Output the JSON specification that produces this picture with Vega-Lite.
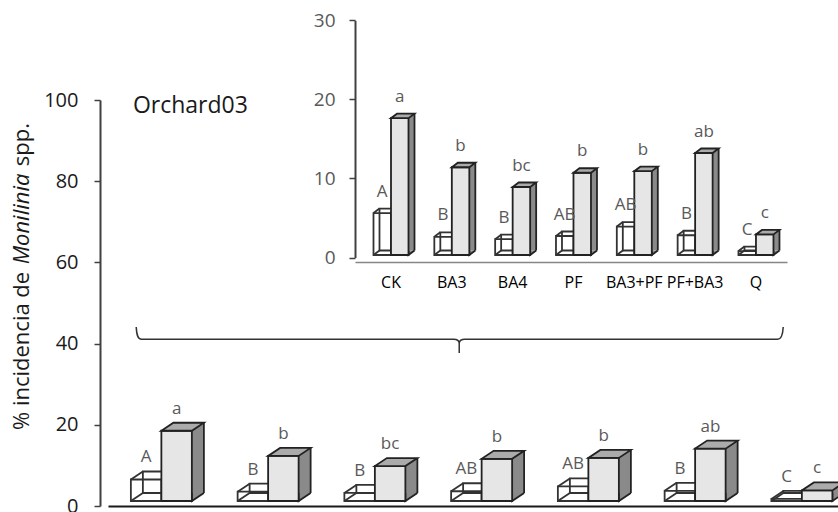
{
  "$schema": "https://vega.github.io/schema/vega-lite/v6.json",
  "width": 738,
  "height": 406,
  "autosize": "none",
  "padding": {"left": 100, "top": 100, "right": 0, "bottom": 6},
  "background": "white",
  "config": {"font": "Open Sans", "view": {"stroke": null}},
  "datasets": {
    "bars": [
      {"cat": "CK", "serie": "S1", "value": 5.3, "letra": "A"},
      {"cat": "CK", "serie": "S2", "value": 17.3, "letra": "a"},
      {"cat": "BA3", "serie": "S1", "value": 2.3, "letra": "B"},
      {"cat": "BA3", "serie": "S2", "value": 11.1, "letra": "b"},
      {"cat": "BA4", "serie": "S1", "value": 2.0, "letra": "B"},
      {"cat": "BA4", "serie": "S2", "value": 8.6, "letra": "bc"},
      {"cat": "PF", "serie": "S1", "value": 2.4, "letra": "AB"},
      {"cat": "PF", "serie": "S2", "value": 10.4, "letra": "b"},
      {"cat": "BA3+PF", "serie": "S1", "value": 3.6, "letra": "AB"},
      {"cat": "BA3+PF", "serie": "S2", "value": 10.6, "letra": "b"},
      {"cat": "PF+BA3", "serie": "S1", "value": 2.5, "letra": "B"},
      {"cat": "PF+BA3", "serie": "S2", "value": 12.9, "letra": "ab"},
      {"cat": "Q", "serie": "S1", "value": 0.5, "letra": "C"},
      {"cat": "Q", "serie": "S2", "value": 2.6, "letra": "c"}
    ]
  },
  "resolve": {"scale": {"x": "independent", "y": "independent"}, "axis": {"x": "independent", "y": "independent"}},
  "layer": [
    {
      "data": {"name": "bars"},
      "encoding": {
        "x": {"field": "cat", "type": "nominal", "title": null,
          "scale": {"domain": ["CK", "BA3", "BA4", "PF", "BA3+PF", "PF+BA3", "Q"], "range": [8, 755.25], "paddingInner": 0, "paddingOuter": 0},
          "axis": {"orient": "bottom", "labels": false, "ticks": false, "title": null, "domainColor": "#1a1a1a", "domainWidth": 2, "grid": false}},
        "y": {"field": "value", "type": "quantitative", "title": null,
          "scale": {"domain": [0, 100], "nice": false},
          "axis": {"orient": "left", "values": [0, 20, 40, 60, 80, 100], "grid": false, "title": null, "labelFontSize": 20, "labelColor": "#1a1a1a", "labelFont": "Open Sans", "tickSize": 6, "tickColor": "#404040", "tickWidth": 1.5, "labelPadding": 16, "domainColor": "#404040", "domainWidth": 2}}
      },
      "layer": [
        {"transform": [{"filter": "datum.serie == 'S1'"}],
         "mark": {"type": "bar", "width": 30.5, "xOffset": -3.25, "yOffset": -13, "y2Offset": -13, "fillOpacity": 0, "stroke": "#333333", "strokeWidth": 1.8}},
        {"transform": [{"filter": "datum.serie == 'S1'"}],
         "mark": {"type": "point", "shape": "M-30.5,0 L-18.5,-8", "size": 4, "yOffset": -5, "fillOpacity": 0, "stroke": "#333333", "strokeWidth": 1.8, "opacity": 1}},
        {"transform": [{"filter": "datum.serie == 'S1'"}],
         "mark": {"type": "point", "shape": "M-30.5,0 L-18.5,-8", "size": 4, "yOffset": -5, "fillOpacity": 0, "stroke": "#333333", "strokeWidth": 1.8, "opacity": 1},
         "encoding": {"y": {"datum": 0, "type": "quantitative", "title": null}}},
        {"transform": [{"filter": "datum.serie == 'S1'"}],
         "mark": {"type": "bar", "width": 30.5, "xOffset": -15.25, "yOffset": -5, "y2Offset": -5, "fillOpacity": 0, "stroke": "#333333", "strokeWidth": 1.8}},
        {"transform": [{"filter": "datum.serie == 'S2'"}],
         "mark": {"type": "bar", "width": 12, "xOffset": 36.5, "yOffset": -13, "y2Offset": -13, "fill": "#8a8a8a", "strokeWidth": 0}},
        {"transform": [{"filter": "datum.serie == 'S2'"}],
         "mark": {"type": "point", "shape": "M42.5,-8 L30.5,0 L30.5,-8", "size": 4, "yOffset": -5, "fill": "#8a8a8a", "fillOpacity": 1, "stroke": "#222222", "strokeWidth": 1.8, "opacity": 1},
         "encoding": {"y": {"datum": 0, "type": "quantitative", "title": null}}},
        {"transform": [{"filter": "datum.serie == 'S2'"}],
         "mark": {"type": "rule", "xOffset": 42.5, "x2Offset": 42.5, "yOffset": -13, "y2Offset": -13, "stroke": "#222222", "strokeWidth": 1.8},
         "encoding": {"y2": {"datum": 0}}},
        {"transform": [{"filter": "datum.serie == 'S2'"}],
         "mark": {"type": "bar", "width": 30.5, "xOffset": 15.25, "yOffset": -5, "y2Offset": -5, "fill": "#e6e6e6", "stroke": "#222222", "strokeWidth": 1.8}},
        {"transform": [{"filter": "datum.serie == 'S2'"}],
         "mark": {"type": "point", "shape": "M0,0 L30.5,0 L42.5,-8 L12,-8 Z", "size": 4, "yOffset": -5, "fill": "#ababab", "fillOpacity": 1, "stroke": "#222222", "strokeWidth": 1.8, "opacity": 1}},
        {"transform": [{"filter": "datum.serie == 'S1'"}],
         "mark": {"type": "text", "xOffset": -15.25, "yOffset": -22, "baseline": "alphabetic", "align": "center", "fontSize": 17, "font": "Open Sans", "color": "#595959"},
         "encoding": {"text": {"field": "letra"}}},
        {"transform": [{"filter": "datum.serie == 'S2'"}],
         "mark": {"type": "text", "xOffset": 15.25, "yOffset": -22, "baseline": "alphabetic", "align": "center", "fontSize": 17, "font": "Open Sans", "color": "#595959"},
         "encoding": {"text": {"field": "letra"}}},
        {"transform": [{"filter": "datum.cat == 'CK' && datum.serie == 'S1'"}],
         "mark": {"type": "text", "text": "Orchard03", "align": "left", "baseline": "alphabetic", "xOffset": -28.5, "yOffset": 13, "fontSize": 23, "font": "Open Sans", "color": "#1a1a1a"},
         "encoding": {"y": {"datum": 100, "type": "quantitative", "title": null}}},
        {"transform": [{"filter": "datum.cat == 'CK' && datum.serie == 'S1'"}],
         "mark": {"type": "text", "text": "% incidencia de", "align": "center", "baseline": "alphabetic", "angle": 270, "fontSize": 22, "font": "Open Sans", "color": "#1a1a1a"},
         "encoding": {"x": {"value": -71}, "y": {"datum": 38.2, "type": "quantitative", "title": null}}},
        {"transform": [{"filter": "datum.cat == 'CK' && datum.serie == 'S1'"}],
         "mark": {"type": "text", "text": "Monilinia", "align": "center", "baseline": "alphabetic", "angle": 270, "fontSize": 22, "fontStyle": "italic", "font": "Open Sans", "color": "#1a1a1a"},
         "encoding": {"x": {"value": -71}, "y": {"datum": 70.7, "type": "quantitative", "title": null}}},
        {"transform": [{"filter": "datum.cat == 'CK' && datum.serie == 'S1'"}],
         "mark": {"type": "text", "text": "spp.", "align": "center", "baseline": "alphabetic", "angle": 270, "fontSize": 22, "font": "Open Sans", "color": "#1a1a1a"},
         "encoding": {"x": {"value": -71}, "y": {"datum": 89.0, "type": "quantitative", "title": null}}},
        {"transform": [{"filter": "datum.cat == 'PF' && datum.serie == 'S1'"}],
         "mark": {"type": "point", "shape": "M-345.4,-16.6 C-345,-9 -344,-4.3 -340,-4.3 L-28,-4.3 C-24,-4.3 -22.4,-2 -22.4,0 L-22.4,9.4 M-22.4,0 C-22.4,-2 -20.8,-4.3 -16.8,-4.3 L296,-4.3 C300,-4.3 301.2,-9 301.6,-16.6", "size": 4, "fillOpacity": 0, "stroke": "#333333", "strokeWidth": 1.5, "opacity": 1},
         "encoding": {"y": {"datum": 40, "type": "quantitative", "title": null}}}
      ]
    },
    {
      "data": {"name": "bars"},
      "encoding": {
        "x": {"field": "cat", "type": "nominal", "title": null,
          "scale": {"domain": ["CK", "BA3", "BA4", "PF", "BA3+PF", "PF+BA3", "Q"], "range": [255, 687], "paddingInner": 0, "paddingOuter": 0.051, "align": 0.9},
          "axis": {"orient": "bottom", "offset": -244, "labelAngle": 0, "ticks": false, "title": null, "labelFontSize": 16, "labelFont": "Open Sans", "labelColor": "#000000", "labelPadding": 12, "domainColor": "#868686", "domainWidth": 1.5, "grid": false}},
        "y": {"field": "value", "type": "quantitative", "title": null,
          "scale": {"domain": [0, 30], "range": [157.5, -79.7], "nice": false},
          "axis": {"orient": "left", "offset": -255, "values": [0, 10, 20, 30], "grid": false, "title": null, "labelFontSize": 19, "labelFont": "Open Sans", "labelColor": "#595959", "tickSize": 6, "tickColor": "#404040", "tickWidth": 1.5, "labelPadding": 14, "domainColor": "#404040", "domainWidth": 2}}
      },
      "layer": [
        {"transform": [{"filter": "datum.serie == 'S1'"}],
         "mark": {"type": "bar", "width": 17.5, "xOffset": -2.75, "yOffset": -7, "y2Offset": -7, "fillOpacity": 0, "stroke": "#333333", "strokeWidth": 1.8}},
        {"transform": [{"filter": "datum.serie == 'S1'"}],
         "mark": {"type": "point", "shape": "M-17.5,0 L-11.5,-4.5", "size": 4, "yOffset": -2.5, "fillOpacity": 0, "stroke": "#333333", "strokeWidth": 1.8, "opacity": 1}},
        {"transform": [{"filter": "datum.serie == 'S1'"}],
         "mark": {"type": "point", "shape": "M-17.5,0 L-11.5,-4.5", "size": 4, "yOffset": -2.5, "fillOpacity": 0, "stroke": "#333333", "strokeWidth": 1.8, "opacity": 1},
         "encoding": {"y": {"datum": 0, "type": "quantitative", "title": null}}},
        {"transform": [{"filter": "datum.serie == 'S1'"}],
         "mark": {"type": "bar", "width": 17.5, "xOffset": -8.75, "yOffset": -2.5, "y2Offset": -2.5, "fillOpacity": 0, "stroke": "#333333", "strokeWidth": 1.8}},
        {"transform": [{"filter": "datum.serie == 'S2'"}],
         "mark": {"type": "bar", "width": 6, "xOffset": 20.5, "yOffset": -7, "y2Offset": -7, "fill": "#8a8a8a", "strokeWidth": 0}},
        {"transform": [{"filter": "datum.serie == 'S2'"}],
         "mark": {"type": "point", "shape": "M23.5,-4.5 L17.5,0 L17.5,-4.5", "size": 4, "yOffset": -2.5, "fill": "#8a8a8a", "fillOpacity": 1, "stroke": "#222222", "strokeWidth": 1.8, "opacity": 1},
         "encoding": {"y": {"datum": 0, "type": "quantitative", "title": null}}},
        {"transform": [{"filter": "datum.serie == 'S2'"}],
         "mark": {"type": "rule", "xOffset": 23.5, "x2Offset": 23.5, "yOffset": -7, "y2Offset": -7, "stroke": "#222222", "strokeWidth": 1.8},
         "encoding": {"y2": {"datum": 0}}},
        {"transform": [{"filter": "datum.serie == 'S2'"}],
         "mark": {"type": "bar", "width": 17.5, "xOffset": 8.75, "yOffset": -2.5, "y2Offset": -2.5, "fill": "#e6e6e6", "stroke": "#222222", "strokeWidth": 1.8}},
        {"transform": [{"filter": "datum.serie == 'S2'"}],
         "mark": {"type": "point", "shape": "M0,0 L17.5,0 L23.5,-4.5 L6,-4.5 Z", "size": 4, "yOffset": -2.5, "fill": "#ababab", "fillOpacity": 1, "stroke": "#222222", "strokeWidth": 1.8, "opacity": 1}},
        {"transform": [{"filter": "datum.serie == 'S1'"}],
         "mark": {"type": "text", "xOffset": -8.75, "yOffset": -19, "baseline": "alphabetic", "align": "center", "fontSize": 17, "font": "Open Sans", "color": "#595959"},
         "encoding": {"text": {"field": "letra"}}},
        {"transform": [{"filter": "datum.serie == 'S2'"}],
         "mark": {"type": "text", "xOffset": 8.75, "yOffset": -19, "baseline": "alphabetic", "align": "center", "fontSize": 17, "font": "Open Sans", "color": "#595959"},
         "encoding": {"text": {"field": "letra"}}}
      ]
    }
  ]
}
